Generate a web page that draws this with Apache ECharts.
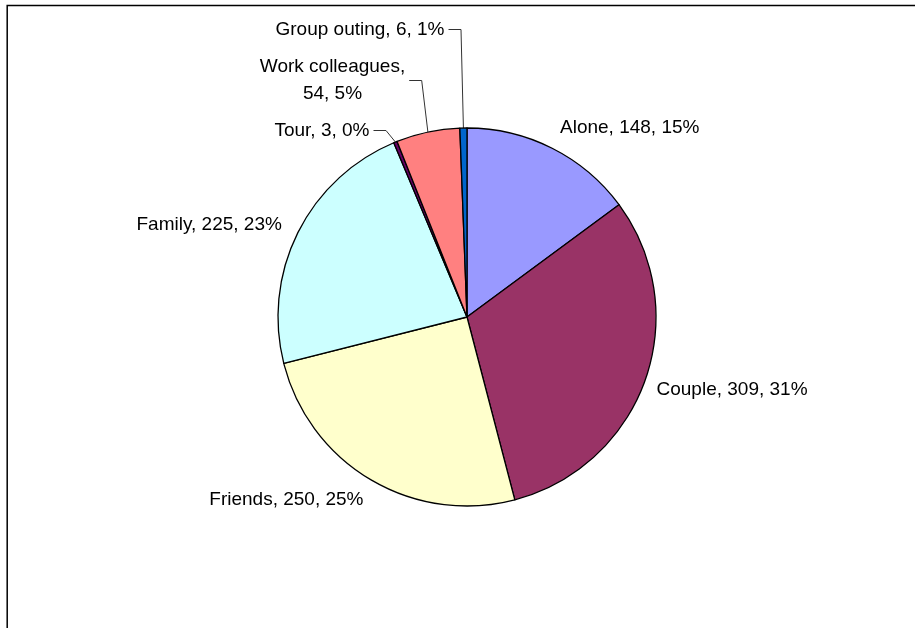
<!DOCTYPE html>
<html>
<head>
    <meta charset="utf-8"/>
    <title>Pie</title>
    <style>
        html, body { margin: 0; padding: 0; background: #fff; }
        #main { width: 915px; height: 628px; }
    </style>
</head>
<body>
<div id="main"></div>
<script src="https://cdn.jsdelivr.net/npm/echarts@6/dist/echarts.min.js"></script>
<script>
    // 数据
    var names = ['Alone', 'Couple', 'Friends', 'Family', 'Tour', 'Work colleagues', 'Group outing'];
    var values = [148, 309, 250, 225, 3, 54, 6];
    var colors = ['#9999FF', '#993366', '#FFFFCC', '#CCFFFF', '#660066', '#FF8080', '#0066CC'];
    var withLeader = ['Tour', 'Work colleagues', 'Group outing'];

    // label placement (x, y, align), same order as names
    var labelPos = [
        [560, 127.5, 'left'],
        [656.5, 389.5, 'left'],
        [363.5, 499.5, 'right'],
        [136.5, 225, 'left'],
        [369.5, 130.5, 'right'],
        [332.5, 80.5, 'center'],
        [444.5, 29.5, 'right']
    ];

    var total = 0;
    for (var i = 0; i < values.length; i++) total += values[i];

    var pieData = [];
    for (var i = 0; i < names.length; i++) {
        var item = {
            name: names[i],
            value: values[i],
            itemStyle: { color: colors[i] },
            labelLine: { show: withLeader.indexOf(names[i]) >= 0 }
        };
        pieData.push(item);
    }

    var option = {
        animation: false,
        graphic: [{
            type: 'rect',
            shape: { x: 7.2, y: 5.6, width: 1200, height: 1200 },
            style: { fill: 'none', stroke: '#000', lineWidth: 1.5 },
            silent: true
        }],
        series: [{
            type: 'pie',
            center: [467, 317],
            radius: 189,
            startAngle: 90,
            clockwise: true,
            avoidLabelOverlap: false,
            itemStyle: { borderColor: '#000', borderWidth: 1.3 },
            label: {
                show: true,
                position: 'outside',
                color: '#000',
                fontFamily: 'Liberation Sans, Arial, sans-serif',
                fontSize: 19,
                lineHeight: 26.5,
                formatter: function (p) {
                    var pct = Math.round(p.value / total * 100);
                    var sep = p.name === 'Work colleagues' ? ',\n' : ', ';
                    return p.name + sep + p.value + ', ' + pct + '%';
                }
            },
            labelLine: {
                show: false,
                lineStyle: { color: '#333', width: 1 }
            },
            labelLayout: function (params) {
                var pos = labelPos[params.dataIndex];
                var res = { x: pos[0], y: pos[1], align: pos[2], verticalAlign: 'middle' };
                var pts = params.labelLinePoints;
                if (withLeader.indexOf(names[params.dataIndex]) >= 0 && pts) {
                    var w = params.labelRect.width;
                    var right = pos[2] === 'right' ? pos[0] : (pos[2] === 'center' ? pos[0] + w / 2 : pos[0] + w);
                    var start = [right + 4, pos[1]];
                    var elbow = [right + 16.5, pos[1]];
                    res.labelLinePoints = [pts[0], elbow, start];
                }
                return res;
            },
            data: pieData
        }]
    };

    var myChart = echarts.init(document.getElementById('main'));
    myChart.setOption(option);
</script>
</body>
</html>
